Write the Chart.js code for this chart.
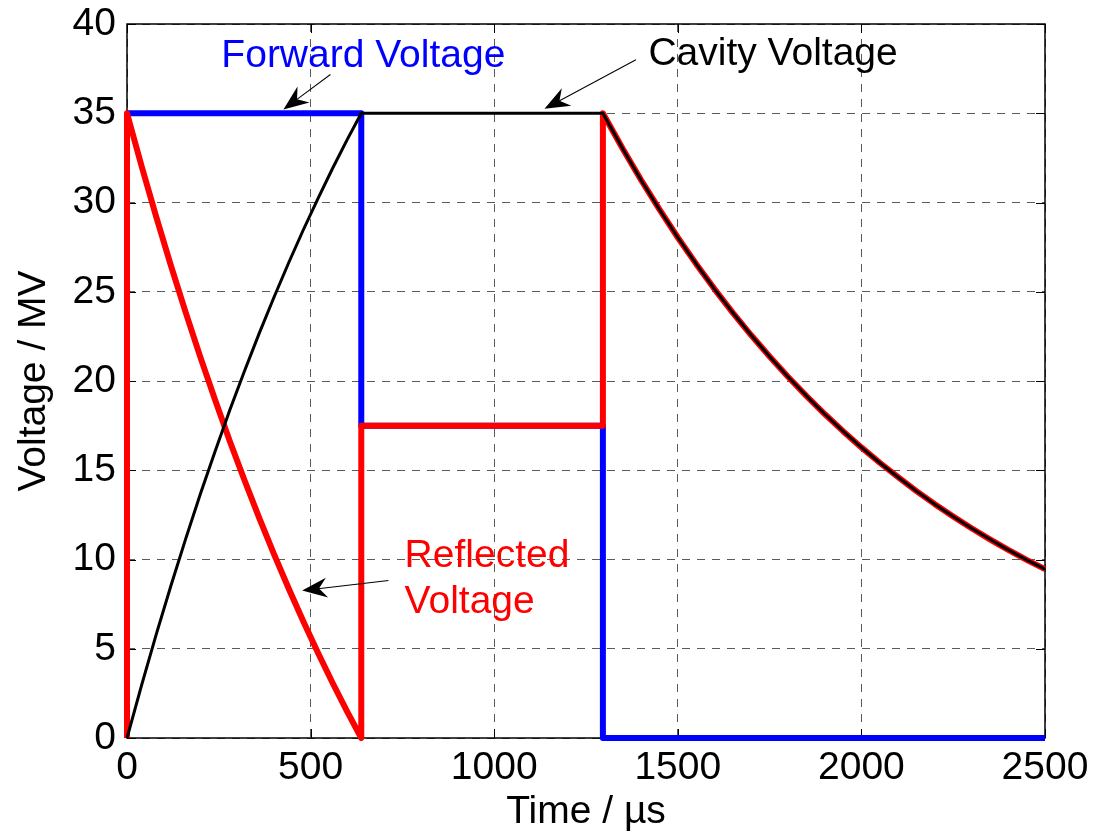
<!DOCTYPE html>
<html>
<head>
<meta charset="utf-8">
<script src="https://cdn.jsdelivr.net/npm/chart.js@4"></script>
<style>
  body { margin: 0; background: #fff; }
</style>
</head>
<body>
<canvas id="rfChart" width="1102" height="836"></canvas>
<script>
// values (time in us, voltage in MV)
const chargeTime = [0, 40, 80, 120, 160, 200, 240, 280, 320, 360, 400, 440, 480, 520, 560, 600, 638];
const cavityCharge = [0, 2.98, 5.83, 8.56, 11.17, 13.68, 16.07, 18.37, 20.56, 22.67, 24.68, 26.61, 28.46, 30.22, 31.92, 33.54, 35];
const reflectedCharge = [35, 32.02, 29.17, 26.44, 23.83, 21.32, 18.93, 16.63, 14.44, 12.33, 10.32, 8.39, 6.54, 4.78, 3.08, 1.46, 0];
const reflectedFlat = 17.5;
const decayTime = [1296, 1350, 1400, 1450, 1500, 1550, 1600, 1650, 1700, 1750, 1800, 1850, 1900,
                   1950, 2000, 2050, 2100, 2150, 2200, 2250, 2300, 2350, 2400, 2450, 2500];
const cavityDecay = [35, 33.01, 31.26, 29.61, 28.04, 26.56, 25.15, 23.82, 22.56, 21.37, 20.24, 19.17, 18.15,
                     17.19, 16.28, 15.42, 14.61, 13.83, 13.10, 12.41, 11.75, 11.13, 10.54, 9.98, 9.46];
const forwardTime = [0, 638, 638, 1296, 1296, 2500];
const forwardVolt = [35, 35, 17.5, 17.5, 0, 0];
const xTicks = [0, 500, 1000, 1500, 2000, 2500];
const yTicks = [0, 5, 10, 15, 20, 25, 30, 35, 40];

const pts = (xs, ys) => xs.map((x, i) => ({ x: x, y: ys[i] }));

const cavityPts = pts(chargeTime, cavityCharge).concat(pts(decayTime, cavityDecay));
const reflectedPts = [{ x: 0, y: 0 }]
  .concat(pts(chargeTime, reflectedCharge))
  .concat([{ x: chargeTime[chargeTime.length - 1], y: reflectedFlat }, { x: decayTime[0], y: reflectedFlat }])
  .concat(pts(decayTime, cavityDecay));
const forwardPts = pts(forwardTime, forwardVolt);

const FONT = '"Liberation Sans", Arial, Helvetica, sans-serif';
Chart.defaults.font.family = FONT;
Chart.defaults.font.size = 39;
Chart.defaults.color = '#000';

// text labels + arrows, anchored in data units
const notes = [
  { lines: ['Forward Voltage'], color: '#0000ff', x: 257, y: 37.58, from: [554, 37.17], to: [426, 35.21] },
  { lines: ['Cavity Voltage'], color: '#000000', x: 1420, y: 37.68, from: [1386, 38.0], to: [1137, 35.25] },
  { lines: ['Reflected', 'Voltage'], color: '#ff0000', x: 756, y: 9.6, from: [712, 8.82], to: [477, 8.26] }
];

function drawArrow(ctx, x0, y0, x1, y1) {
  const ang = Math.atan2(y1 - y0, x1 - x0);
  const len = Math.hypot(x1 - x0, y1 - y0);
  ctx.save();
  ctx.translate(x1, y1);
  ctx.rotate(ang);
  ctx.strokeStyle = '#000';
  ctx.fillStyle = '#000';
  ctx.lineWidth = 1;
  ctx.beginPath();
  ctx.moveTo(-len, 0);
  ctx.lineTo(-16, 0);
  ctx.stroke();
  ctx.beginPath();
  ctx.moveTo(0, 0);
  ctx.lineTo(-25, -10);
  ctx.lineTo(-17, 0);
  ctx.lineTo(-25, 10);
  ctx.closePath();
  ctx.fill();
  ctx.restore();
}

const overlay = {
  id: 'overlay',
  beforeDatasetsDraw(chart) {
    const { ctx, chartArea: a, scales } = chart;
    ctx.save();
    ctx.strokeStyle = '#000';
    ctx.lineWidth = 1;
    ctx.setLineDash([]);
    // inward tick marks
    ctx.beginPath();
    scales.x.ticks.forEach(t => {
      const px = Math.round(scales.x.getPixelForValue(t.value)) + 0.5;
      ctx.moveTo(px, a.bottom); ctx.lineTo(px, a.bottom - 9);
      ctx.moveTo(px, a.top); ctx.lineTo(px, a.top + 9);
    });
    scales.y.ticks.forEach(t => {
      const py = Math.round(scales.y.getPixelForValue(t.value)) + 0.5;
      ctx.moveTo(a.left, py); ctx.lineTo(a.left + 9, py);
      ctx.moveTo(a.right, py); ctx.lineTo(a.right - 9, py);
    });
    ctx.stroke();
    ctx.lineWidth = 1.5;
    ctx.strokeRect(a.left, a.top, a.right - a.left, a.bottom - a.top);
    ctx.restore();
  },
  afterDatasetsDraw(chart) {
    const { ctx, scales } = chart;
    const X = v => scales.x.getPixelForValue(v);
    const Y = v => scales.y.getPixelForValue(v);
    ctx.save();
    ctx.font = '39px ' + FONT;
    ctx.textAlign = 'left';
    ctx.textBaseline = 'alphabetic';
    notes.forEach(n => {
      ctx.fillStyle = n.color;
      n.lines.forEach((s, i) => ctx.fillText(s, X(n.x), Y(n.y) + i * 46.6));
      drawArrow(ctx, X(n.from[0]), Y(n.from[1]), X(n.to[0]), Y(n.to[1]));
    });
    ctx.restore();
  }
};

new Chart(document.getElementById('rfChart').getContext('2d'), {
  type: 'line',
  data: {
    datasets: [
      { label: 'Cavity Voltage', data: cavityPts, borderColor: '#000000', borderWidth: 3, order: 1 },
      { label: 'Reflected Voltage', data: reflectedPts, borderColor: '#ff0000', borderWidth: 6, order: 2 },
      { label: 'Forward Voltage', data: forwardPts, borderColor: '#0000ff', borderWidth: 6, order: 3 }
    ]
  },
  options: {
    responsive: false,
    animation: false,
    layout: { padding: { top: 24, right: 57, bottom: 0, left: 0 } },
    elements: {
      point: { radius: 0 },
      line: { tension: 0, fill: false, borderJoinStyle: 'round', borderCapStyle: 'butt' }
    },
    datasets: { line: { clip: false } },
    plugins: {
      legend: { display: false },
      tooltip: { enabled: false }
    },
    scales: {
      x: {
        type: 'linear',
        min: xTicks[0],
        max: xTicks[xTicks.length - 1],
        afterBuildTicks: s => { s.ticks = xTicks.map(v => ({ value: v })); },
        afterFit: s => { s.height = 98; s.paddingLeft = 0; s.paddingRight = 0; },
        ticks: { padding: 6.5, maxRotation: 0, autoSkip: false, callback: v => String(v) },
        grid: { color: '#5a5a5a', lineWidth: 1, drawTicks: false },
        border: { display: false, dash: [8, 7] },
        title: { display: true, text: 'Time / \u00b5s', padding: { top: 0, bottom: 0 } }
      },
      y: {
        type: 'linear',
        min: yTicks[0],
        max: yTicks[yTicks.length - 1],
        afterBuildTicks: s => { s.ticks = yTicks.map(v => ({ value: v })); },
        afterFit: s => { s.width = 127; s.paddingTop = 0; s.paddingBottom = 0; },
        ticks: { padding: 11, autoSkip: false, callback: v => String(v) },
        grid: { color: '#5a5a5a', lineWidth: 1, drawTicks: false },
        border: { display: false, dash: [8, 7] },
        title: { display: true, text: 'Voltage / MV', padding: { top: 11, bottom: 0 } }
      }
    }
  },
  plugins: [overlay]
});
</script>
</body>
</html>
